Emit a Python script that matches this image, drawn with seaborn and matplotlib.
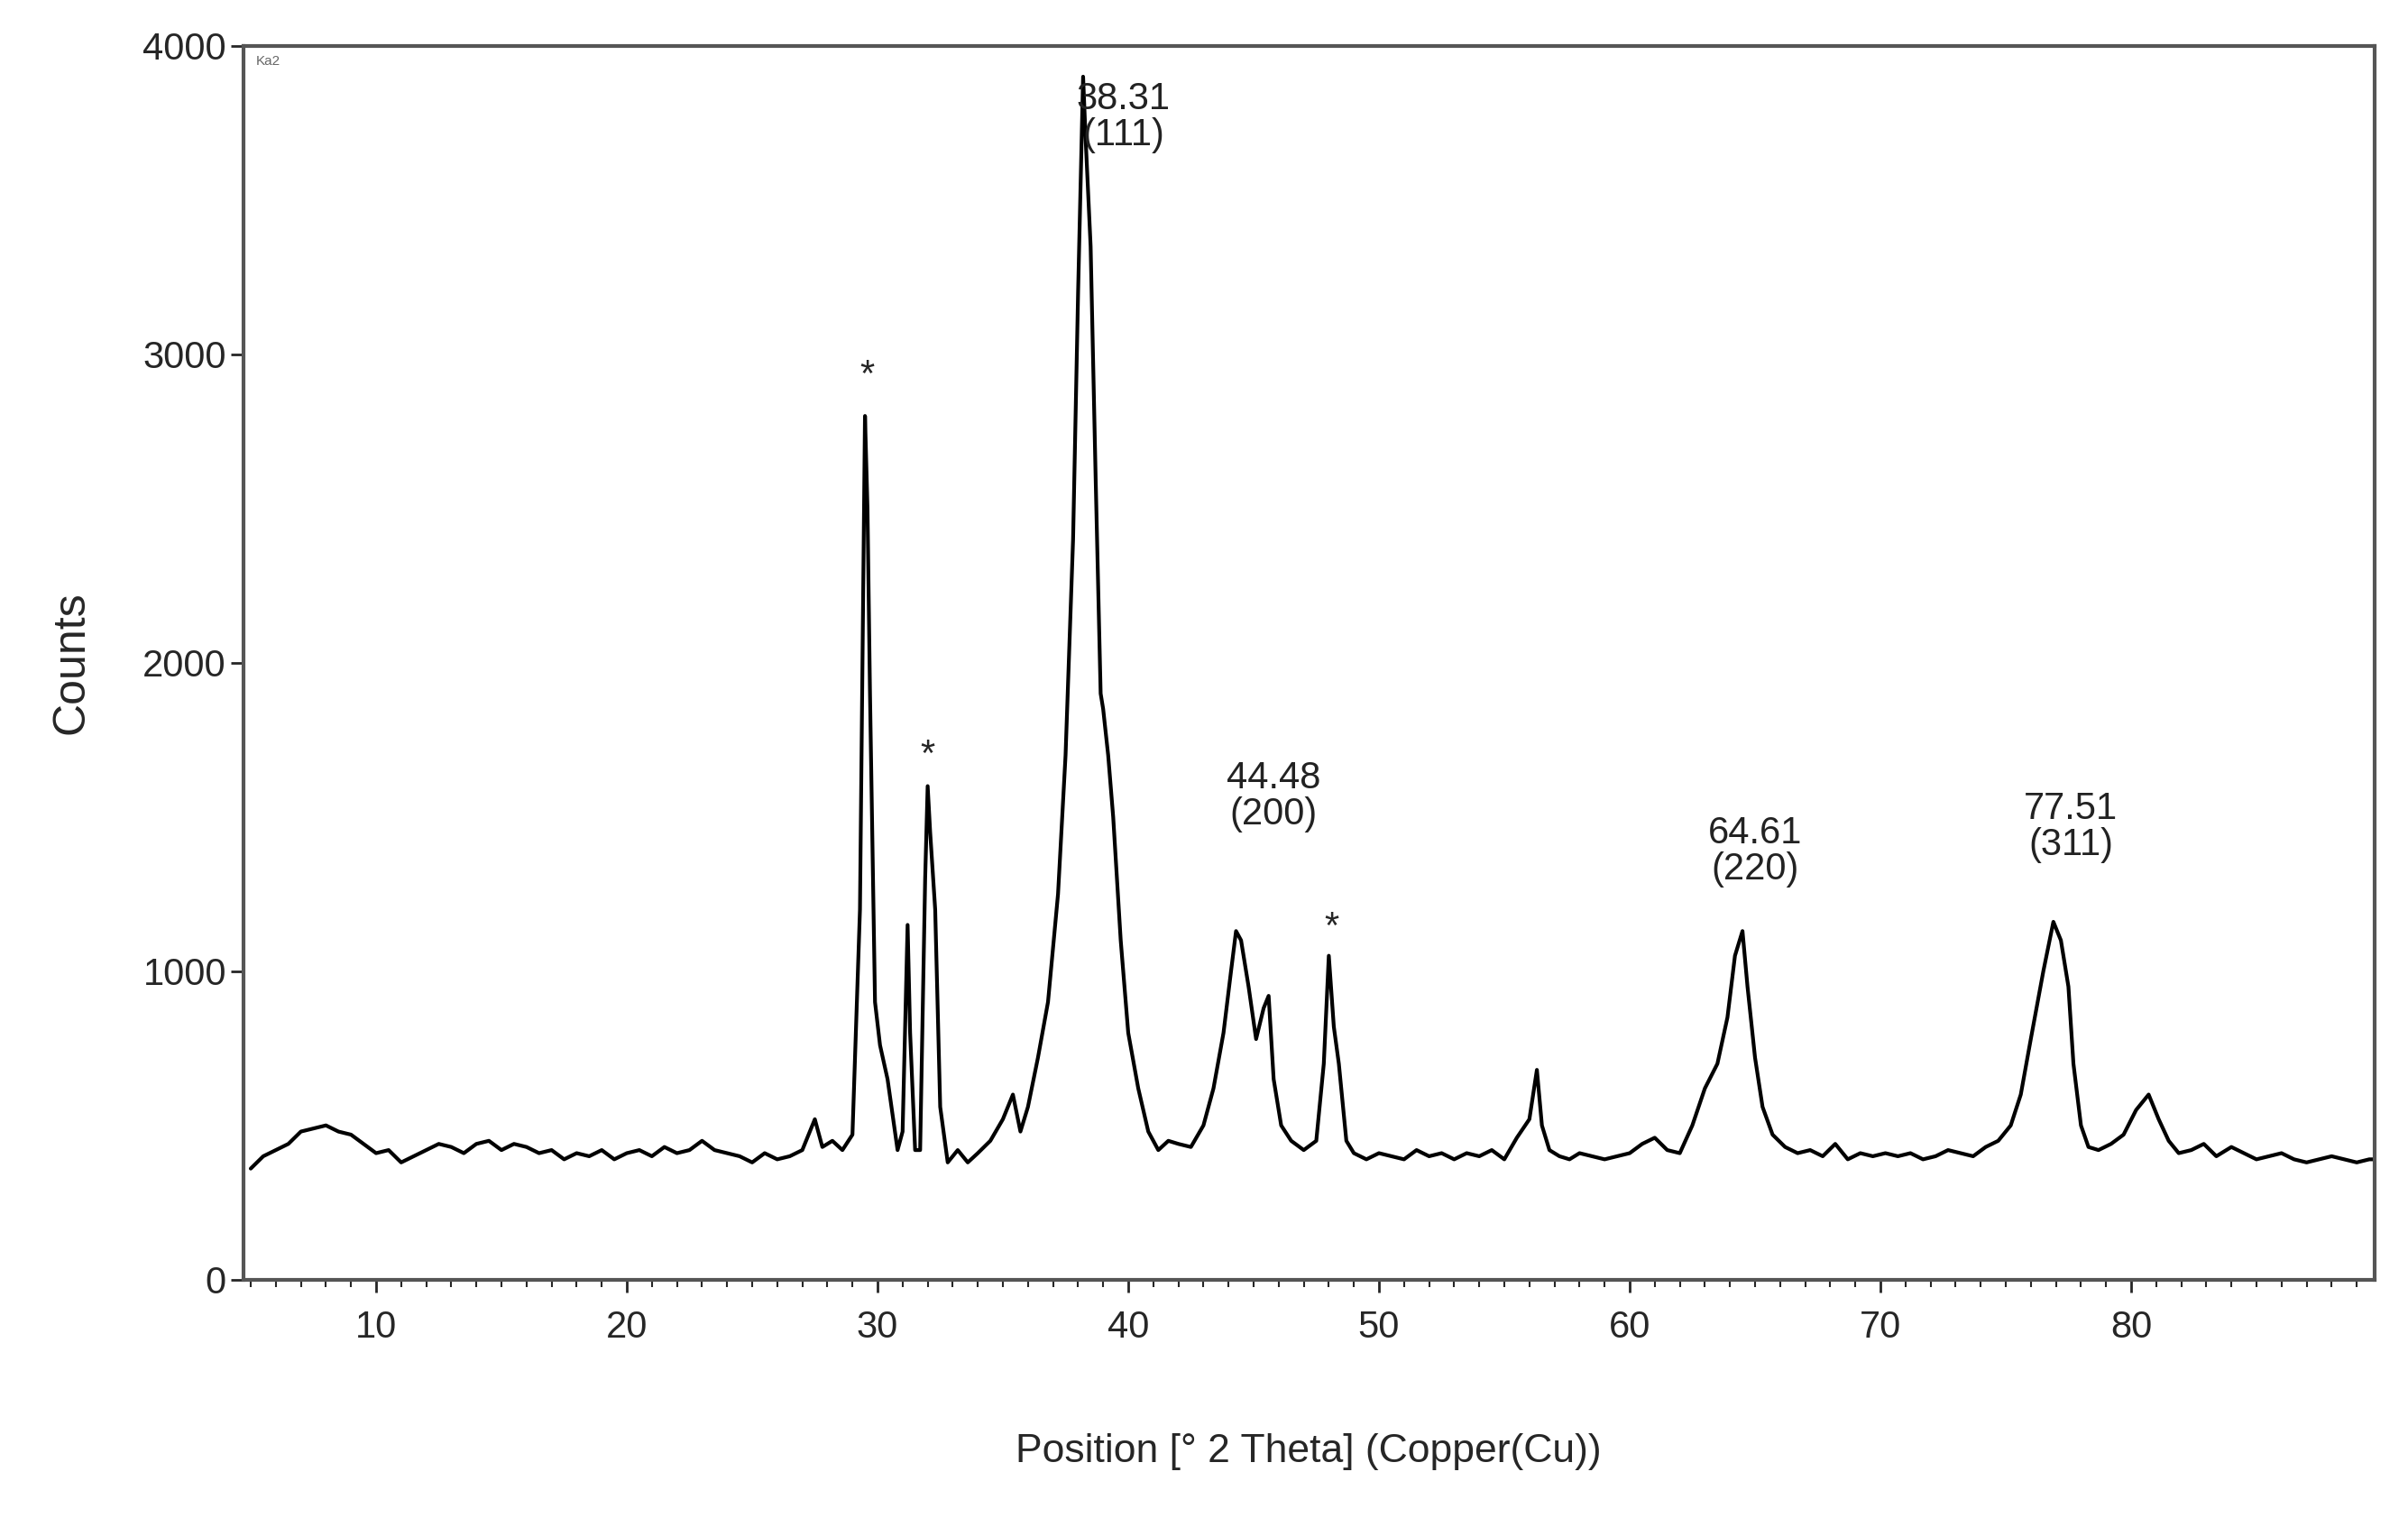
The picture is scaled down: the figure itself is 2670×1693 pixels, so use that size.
import matplotlib
matplotlib.use("Agg")
import matplotlib.pyplot as plt
import seaborn as sns
import pandas as pd
from matplotlib.ticker import MultipleLocator

# Diffractogram: (2theta, counts)
pattern = [
    (5, 360), (5.5, 400), (6, 420), (6.5, 440), (7, 480), (7.5, 490), (8, 500), (8.5, 480),
    (9, 470), (9.5, 440), (10, 410), (10.5, 420), (11, 380), (11.5, 400), (12, 420),
    (12.5, 440), (13, 430), (13.5, 410), (14, 440), (14.5, 450), (15, 420), (15.5, 440),
    (16, 430), (16.5, 410), (17, 420), (17.5, 390), (18, 410), (18.5, 400), (19, 420),
    (19.5, 390), (20, 410), (20.5, 420), (21, 400), (21.5, 430), (22, 410), (22.5, 420),
    (23, 450), (23.5, 420), (24, 410), (24.5, 400), (25, 380), (25.5, 410), (26, 390),
    (26.5, 400), (27, 420), (27.5, 520), (27.8, 430), (28.2, 450), (28.6, 420),
    (29.0, 470), (29.3, 1200), (29.5, 2800), (29.6, 2500), (29.7, 1900), (29.9, 900),
    (30.1, 760), (30.4, 650), (30.8, 420), (31.0, 480), (31.2, 1150), (31.3, 800),
    (31.5, 420), (31.7, 420), (31.9, 1300), (32.0, 1600), (32.1, 1450), (32.3, 1200),
    (32.5, 560), (32.8, 380), (33.2, 420), (33.6, 380), (34.0, 410), (34.5, 450),
    (35.0, 520), (35.4, 600), (35.7, 480), (36.0, 560), (36.4, 720), (36.8, 900),
    (37.2, 1250), (37.5, 1700), (37.8, 2400), (38.0, 3200), (38.2, 3900), (38.3, 3700),
    (38.5, 3350), (38.7, 2600), (38.9, 1900), (39.0, 1850), (39.2, 1700), (39.4, 1500),
    (39.7, 1100), (40.0, 800), (40.4, 620), (40.8, 480), (41.2, 420), (41.6, 450),
    (42.0, 440), (42.5, 430), (43.0, 500), (43.4, 620), (43.8, 800), (44.1, 1000),
    (44.3, 1130), (44.5, 1100), (44.8, 950), (45.1, 780), (45.4, 880), (45.6, 920),
    (45.8, 650), (46.1, 500), (46.5, 450), (47.0, 420), (47.5, 450), (47.8, 700),
    (48.0, 1050), (48.2, 820), (48.4, 700), (48.7, 450), (49.0, 410), (49.5, 390),
    (50, 410), (50.5, 400), (51, 390), (51.5, 420), (52, 400), (52.5, 410), (53, 390),
    (53.5, 410), (54, 400), (54.5, 420), (55, 390), (55.5, 460), (56.0, 520),
    (56.3, 680), (56.5, 500), (56.8, 420), (57.2, 400), (57.6, 390), (58, 410),
    (58.5, 400), (59, 390), (59.5, 400), (60, 410), (60.5, 440), (61, 460), (61.5, 420),
    (62, 410), (62.5, 500), (63.0, 620), (63.5, 700), (63.9, 850), (64.2, 1050),
    (64.5, 1130), (64.7, 950), (65.0, 720), (65.3, 560), (65.7, 470), (66.2, 430),
    (66.7, 410), (67.2, 420), (67.7, 400), (68.2, 440), (68.7, 390), (69.2, 410),
    (69.7, 400), (70.2, 410), (70.7, 400), (71.2, 410), (71.7, 390), (72.2, 400),
    (72.7, 420), (73.2, 410), (73.7, 400), (74.2, 430), (74.7, 450), (75.2, 500),
    (75.6, 600), (76.0, 780), (76.5, 1000), (76.9, 1160), (77.2, 1100), (77.5, 950),
    (77.7, 700), (78.0, 500), (78.3, 430), (78.7, 420), (79.2, 440), (79.7, 470),
    (80.2, 550), (80.7, 600), (81.1, 520), (81.5, 450), (81.9, 410), (82.4, 420),
    (82.9, 440), (83.4, 400), (84.0, 430), (84.5, 410), (85, 390), (85.5, 400),
    (86, 410), (86.5, 390), (87, 380), (87.5, 390), (88, 400), (88.5, 390), (89, 380),
    (89.5, 390), (90, 390),
]
two_theta = [p[0] for p in pattern]
counts = [p[1] for p in pattern]

# shift the last two peaks' positions to match the reference
peak_labels = ["38.31\n(111)", "44.48\n(200)", "64.61\n(220)", "77.51\n(311)"]
label_x = [39.8, 45.8, 65.0, 77.6]
label_y = [3650, 1450, 1270, 1350]
star_x = [29.6, 32.0, 48.1]
star_y = [2870, 1640, 1080]

df = pd.DataFrame({"two_theta": two_theta, "counts": counts})

sns.set_theme(style="white")
plt.rcParams["font.family"] = ["Liberation Sans", "DejaVu Sans"]

fig, ax = plt.subplots(figsize=(26.7, 16.93), dpi=100)
fig.subplots_adjust(left=0.101, right=0.986, top=0.97, bottom=0.162)

sns.lineplot(data=df, x="two_theta", y="counts", color="black", linewidth=3, ax=ax)

for txt, tx, ty in zip(peak_labels, label_x, label_y):
    ax.text(tx, ty, txt, fontsize=30, ha="center", va="bottom",
            color="#222222", linespacing=1.0)
for sx, sy in zip(star_x, star_y):
    ax.text(sx, sy, "*", fontsize=30, ha="center", va="bottom")
ax.text(5.2, 3970, "Ka2", fontsize=11, color="#666666", va="top")

ax.set_xlim(4.7, 89.7)
ax.set_ylim(0, 4000)
ax.xaxis.set_major_locator(MultipleLocator(10))
ax.xaxis.set_minor_locator(MultipleLocator(1))
ax.yaxis.set_major_locator(MultipleLocator(1000))
ax.tick_params(axis="x", which="major", direction="out", length=10, width=2,
               labelsize=30, pad=14, bottom=True)
ax.tick_params(axis="x", which="minor", direction="out", length=6, width=1.5,
               bottom=True)
ax.tick_params(axis="y", direction="out", length=10, width=2, labelsize=30, left=True)
for s in ax.spines.values():
    s.set_color("#555555")
    s.set_linewidth(3)

ax.set_xlabel("Position [° 2 Theta] (Copper(Cu))", fontsize=32, labelpad=70)
ax.set_ylabel("Counts", fontsize=36, labelpad=40)

fig.savefig("out.png", dpi=100, facecolor="white")
